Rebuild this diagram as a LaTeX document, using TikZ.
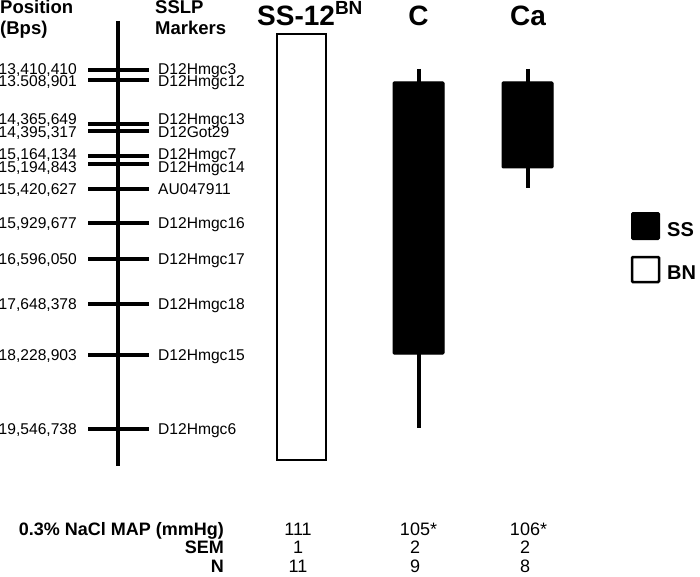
\documentclass[tikz,border=0pt]{standalone}
\usepackage{fontspec}
\setmainfont{Liberation Sans}
% #1 id, #2 tick y, #3 text centre y, #4 position, #5 marker
\newcommand\chrmark[5]{%
  \coordinate (tL#1) at (88,#2);
  \coordinate (tR#1) at (149,#2);
  \draw[tickline] (tL#1) -- (tR#1);
  \node[lab,anchor=base east] (pos#1) at (77,#3+5.5) {#4};
  \node[lab,anchor=base west] (mk#1) at (158,#3+5.5) {#5};
}
\begin{document}
\begin{tikzpicture}[x=1pt,y=-1pt,
  lab/.style={font=\fontsize{15.6}{18}\selectfont, inner sep=0pt, text depth=0pt},
  hdr/.style={font=\bfseries\fontsize{18.5}{21}\selectfont, inner sep=0pt},
  ttl/.style={font=\bfseries\fontsize{28}{31}\selectfont, inner sep=0pt},
  leg/.style={font=\bfseries\fontsize{20}{23}\selectfont, inner sep=0pt},
  tbl/.style={font=\fontsize{18}{21}\selectfont, inner sep=0pt},
  tblh/.style={font=\bfseries\fontsize{18}{21}\selectfont, inner sep=0pt},
  tickline/.style={line width=4.5pt},
  whisk/.style={line width=4pt},
  ssbar/.style={fill=black, draw=black, line width=1pt, rounded corners=1pt},
  bnbar/.style={fill=white, draw=black, line width=2.5pt},
]
\useasboundingbox (0,0) rectangle (700,577);

% headers
\node[hdr,anchor=base west] (h1) at (0,14) {Position};
\node[hdr,anchor=base west] (h2) at (0,35) {(Bps)};
\node[hdr,anchor=base west] (h3) at (155,14) {SSLP};
\node[hdr,anchor=base west] (h4) at (155,35) {Markers};

% chromosome
\coordinate (ctop) at (118,21);
\coordinate (cbot) at (118,466);
\draw[line width=4.7pt] (ctop) -- (cbot);

\chrmark{a}{70}{68.7}{13,410,410}{D12Hmgc3}
\chrmark{b}{80}{81.5}{13.508,901}{D12Hmgc12}
\chrmark{c}{124}{118.8}{14,365,649}{D12Hmgc13}
\chrmark{d}{131}{132.5}{14,395,317}{D12Got29}
\chrmark{e}{156}{154.3}{15,164,134}{D12Hmgc7}
\chrmark{f}{164}{166.7}{15,194,843}{D12Hmgc14}
\chrmark{g}{189}{189.5}{15,420,627}{AU047911}
\chrmark{h}{223}{223}{15,929,677}{D12Hmgc16}
\chrmark{i}{259}{259}{16,596,050}{D12Hmgc17}
\chrmark{j}{304}{304}{17,648,378}{D12Hmgc18}
\chrmark{k}{355}{355}{18,228,903}{D12Hmgc15}
\chrmark{l}{429}{429}{19,546,738}{D12Hmgc6}

% titles
\node[ttl,anchor=base west] (t1) at (257,26) {SS-12\raisebox{11pt}{\fontsize{19}{21}\selectfont BN}};
\node[ttl,anchor=base] (t2) at (418.5,26) {C};
\node[ttl,anchor=base] (t3) at (528,26) {Ca};

% SS-12BN bar
\draw[bnbar] (277,34) rectangle (326,460);

% C bar
\coordinate (cw1) at (418.5,69);
\coordinate (cw2) at (418.5,428);
\draw[whisk] (cw1) -- (cw2);
\draw[ssbar] (393,82) rectangle (444,354);

% Ca bar
\coordinate (aw1) at (527.5,69);
\coordinate (aw2) at (527.5,188);
\draw[whisk] (aw1) -- (aw2);
\draw[ssbar] (502,82) rectangle (553,168);

% legend
\draw[ssbar, line width=2pt] (632,213) rectangle (659,239);
\node[leg,anchor=base west] (lss) at (667,236) {SS};
\draw[bnbar, rounded corners=1pt] (632,257) rectangle (659,282);
\node[leg,anchor=base west] (lbn) at (667,279) {BN};

% table
\node[tblh,anchor=base east] (r1) at (224,535) {0.3\% NaCl MAP (mmHg)};
\node[tblh,anchor=base east] (r2) at (224,553) {SEM};
\node[tblh,anchor=base east] (r3) at (224,572) {N};

\node[tbl,anchor=base] (v11) at (298,535) {111};
\node[tbl,anchor=base] (v12) at (415,535) {105\rlap{*}};
\node[tbl,anchor=base] (v13) at (525,535) {106\rlap{*}};
\node[tbl,anchor=base] (v21) at (298,553) {1};
\node[tbl,anchor=base] (v22) at (415,553) {2};
\node[tbl,anchor=base] (v23) at (525,553) {2};
\node[tbl,anchor=base] (v31) at (298,572) {11};
\node[tbl,anchor=base] (v32) at (415,572) {9};
\node[tbl,anchor=base] (v33) at (525,572) {8};
\end{tikzpicture}
\end{document}
